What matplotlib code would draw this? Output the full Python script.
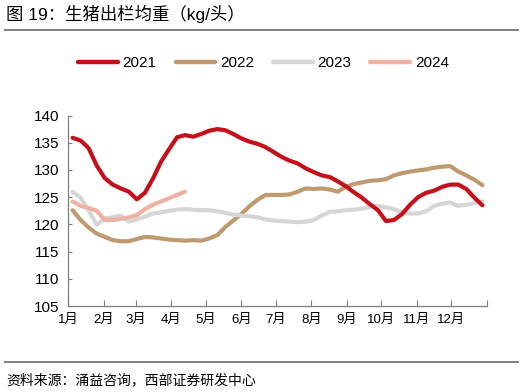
import numpy as np
import matplotlib
matplotlib.use('Agg')
import matplotlib.pyplot as plt
from matplotlib.lines import Line2D

plt.rcParams['font.family'] = ['Liberation Sans', 'Noto Sans CJK SC', 'DejaVu Sans']

# weekly average slaughter weight (kg/head)
y2021 = [135.9, 135.4, 134.0, 130.8, 128.5, 127.3, 126.6, 126.0, 124.6, 125.8,
         128.4, 131.5, 133.8, 136.0, 136.4, 136.1, 136.6, 137.2, 137.5, 137.3,
         136.6, 135.8, 135.2, 134.8, 134.2, 133.3, 132.4, 131.7, 131.2, 130.3,
         129.6, 129.0, 128.7, 127.9, 127.0, 125.9, 124.9, 123.7, 122.6, 120.6,
         120.8, 121.9, 123.6, 125.0, 125.8, 126.2, 126.9, 127.3, 127.3, 126.5,
         124.9, 123.5]
y2022 = [122.6, 120.8, 119.4, 118.3, 117.7, 117.1, 116.9, 116.9, 117.3, 117.7,
         117.6, 117.4, 117.2, 117.1, 117.0, 117.1, 117.0, 117.4, 118.0, 119.5,
         120.7, 121.9, 123.3, 124.5, 125.4, 125.4, 125.4, 125.5, 126.0, 126.6,
         126.5, 126.6, 126.4, 126.0, 126.9, 127.4, 127.7, 128.0, 128.1, 128.3,
         129.0, 129.4, 129.7, 129.9, 130.1, 130.4, 130.6, 130.7, 129.7, 129.0,
         128.2, 127.2]
y2023 = [126.0, 124.9, 122.6, 119.9, 121.1, 121.3, 121.6, 120.5, 120.9, 121.4,
         122.0, 122.2, 122.5, 122.7, 122.8, 122.7, 122.6, 122.6, 122.4, 122.1,
         121.8, 121.6, 121.5, 121.3, 120.9, 120.7, 120.6, 120.5, 120.4, 120.5,
         120.8, 121.6, 122.3, 122.4, 122.6, 122.7, 122.9, 123.2, 123.4, 123.1,
         122.8, 122.2, 122.0, 122.0, 122.4, 123.4, 123.8, 124.0, 123.4, 123.6,
         123.9, 124.2]
y2024 = [124.2, 123.4, 123.0, 122.5, 120.8, 120.8, 121.0, 121.3, 121.7, 122.8,
         123.6, 124.2, 124.8, 125.4, 126.0]

months = ['1月', '2月', '3月', '4月', '5月', '6月', '7月', '8月', '9月',
          '10月', '11月', '12月']
month_start = [0, 31, 59, 90, 120, 151, 181, 212, 243, 273, 304, 334, 365]

series = [('2021', y2021, '#C5101C'),
          ('2022', y2022, '#BF9A70'),
          ('2023', y2023, '#D6D6D6'),
          ('2024', y2024, '#EDB2A2')]

fig = plt.figure(figsize=(5.26, 3.92), dpi=100)
ax = fig.add_axes([68/526, 1-306/392, 419/526, 190.5/392])

# red on top, then pink, then the rest
zorders = [4, 2, 2.5, 3]
for (name, vals, col), z in zip(series, zorders):
    days = 4 + 7*np.arange(len(vals))
    ax.plot(days, vals, color=col, lw=3.0, solid_capstyle='round',
            solid_joinstyle='round', zorder=z)

ax.set_xlim(0, 365)
ax.set_ylim(105, 140)
ax.set_yticks(np.arange(105, 141, 5))
ax.set_xticks(month_start)
ax.set_xticklabels([])
for m, lab in zip(month_start[:-1], months):
    ax.text(m, 102.4, lab, ha='center', va='center', fontsize=9.5)

for s in ['top', 'right']:
    ax.spines[s].set_visible(False)
for s in ['left', 'bottom']:
    ax.spines[s].set_color('#7F7F7F')
    ax.spines[s].set_linewidth(0.9)
ax.tick_params(axis='y', direction='in', length=3, color='#7F7F7F',
               labelsize=11, pad=6)
ax.tick_params(axis='x', direction='in', length=4, color='#7F7F7F')

handles = [Line2D([0], [0], color=c, lw=3.2, solid_capstyle='round')
           for _, _, c in series]
fig.legend(handles, [n for n, _, _ in series], loc='center',
           bbox_to_anchor=(263.5/526, 1-63/392), ncol=4, frameon=False,
           fontsize=11, handlelength=2.6, handletextpad=0.3,
           columnspacing=1.25)

fig.text(6/526, 1-14/392, '图 19：生猪出栏均重（kg/头）', fontsize=12.5,
         va='center', ha='left')
fig.add_artist(Line2D([5/526, 518/526], [1-30/392, 1-30/392],
                      color='#7F7F7F', lw=1.4))
fig.add_artist(Line2D([5/526, 518/526], [1-361.5/392, 1-361.5/392],
                      color='#7F7F7F', lw=1.4))
fig.text(6/526, 1-380/392, '资料来源：涌益咨询，西部证券研发中心', fontsize=10,
         va='center', ha='left')

fig.savefig('out.png', dpi=100)
